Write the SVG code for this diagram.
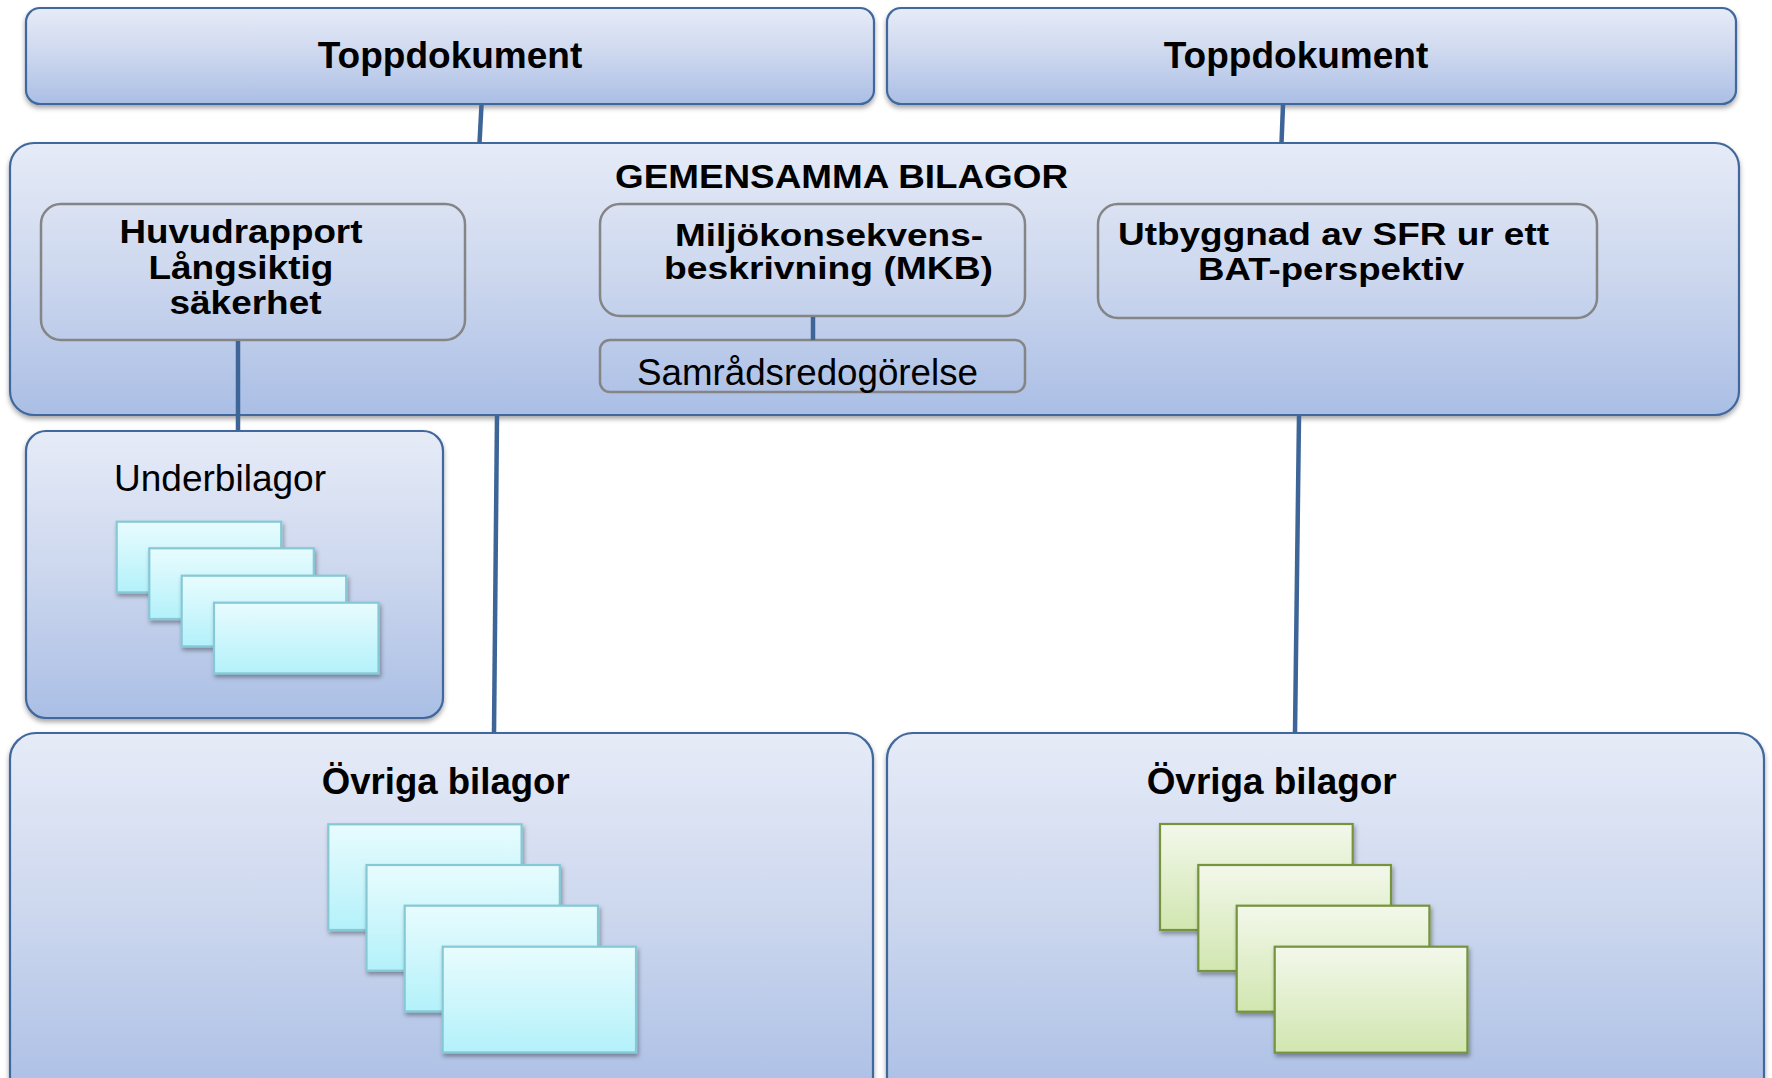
<svg xmlns="http://www.w3.org/2000/svg" width="1772" height="1078" viewBox="0 0 1772 1078">
<defs>
<linearGradient id="gBox" x1="0" y1="0" x2="0" y2="1">
<stop offset="0" stop-color="#e6ebf7"/>
<stop offset="0.5" stop-color="#ccd7ee"/>
<stop offset="1" stop-color="#aabee5"/>
</linearGradient>
<linearGradient id="gCyan" x1="0" y1="0" x2="0" y2="1">
<stop offset="0" stop-color="#e8fcfe"/>
<stop offset="1" stop-color="#b3f1fa"/>
</linearGradient>
<linearGradient id="gGreen" x1="0" y1="0" x2="0" y2="1">
<stop offset="0" stop-color="#f3f8eb"/>
<stop offset="1" stop-color="#d1e6b0"/>
</linearGradient>
<filter id="sh" x="-5%" y="-5%" width="110%" height="115%">
<feDropShadow dx="0" dy="3" stdDeviation="2.5" flood-color="#000" flood-opacity="0.35"/>
</filter>
<filter id="sh2" x="-10%" y="-10%" width="125%" height="130%">
<feDropShadow dx="1.5" dy="3" stdDeviation="2" flood-color="#000" flood-opacity="0.35"/>
</filter>
</defs>
<style>
.box{fill:url(#gBox);stroke:#40679d;stroke-width:2.2;filter:url(#sh)}
.inner{fill:none;stroke:#858585;stroke-width:2.5}
.cy{fill:url(#gCyan);stroke:#86c8d6;stroke-width:2.2;filter:url(#sh2)}
.gr{fill:url(#gGreen);stroke:#76933c;stroke-width:2.2;filter:url(#sh2)}
.b{font-family:"Liberation Sans",Arial,sans-serif;font-weight:bold;fill:#000}
.r{font-family:"Liberation Sans",Arial,sans-serif;fill:#000}
.con{stroke:#3d6597;stroke-width:4.5;fill:none}
</style>
<rect width="1772" height="1078" fill="#fff"/>

<g id="topp-left">
<rect class="box" x="26" y="8" width="848" height="96" rx="14"/>
<text class="b" x="450" y="68" font-size="37" text-anchor="middle">Toppdokument</text>
</g>
<g id="topp-right">
<rect class="box" x="887" y="8" width="849" height="96" rx="14"/>
<text class="b" x="1296" y="68" font-size="37" text-anchor="middle">Toppdokument</text>
</g>

<g id="gemensamma">
<rect class="box" x="10" y="143" width="1729" height="272" rx="24"/>
<text class="b" x="615" y="188" font-size="33" textLength="453" lengthAdjust="spacingAndGlyphs">GEMENSAMMA BILAGOR</text>
</g>

<g id="huvudrapport">
<rect class="inner" x="41" y="204" width="424" height="136" rx="20"/>
<text class="b" font-size="33" text-anchor="middle">
<tspan x="245.5" y="243" textLength="243" lengthAdjust="spacingAndGlyphs">Huvudrapport</tspan>
<tspan x="245.5" y="279" textLength="185" lengthAdjust="spacingAndGlyphs">Långsiktig</tspan>
<tspan x="245.5" y="314" textLength="152" lengthAdjust="spacingAndGlyphs">säkerhet</tspan>
</text>
</g>

<g id="mkb">
<rect class="inner" x="600" y="204" width="425" height="112" rx="20"/>
<text class="b" font-size="32">
<tspan x="675" y="246" textLength="308" lengthAdjust="spacingAndGlyphs">Miljökonsekvens-</tspan>
<tspan x="664" y="279" textLength="329" lengthAdjust="spacingAndGlyphs">beskrivning (MKB)</tspan>
</text>
</g>

<g id="samrad">
<rect class="inner" x="600" y="340" width="425" height="52" rx="10"/>
<text class="r" x="637" y="385" font-size="36" textLength="341" lengthAdjust="spacingAndGlyphs">Samrådsredogörelse</text>
</g>

<g id="utbyggnad">
<rect class="inner" x="1098" y="204" width="499" height="114" rx="20"/>
<text class="b" font-size="32">
<tspan x="1118" y="245" textLength="431" lengthAdjust="spacingAndGlyphs">Utbyggnad av SFR ur ett</tspan>
<tspan x="1198" y="280" textLength="266" lengthAdjust="spacingAndGlyphs">BAT-perspektiv</tspan>
</text>
</g>

<g id="underbilagor">
<rect class="box" x="26" y="431" width="417" height="287" rx="20"/>
<text class="r" x="114" y="491" font-size="37" textLength="212" lengthAdjust="spacingAndGlyphs">Underbilagor</text>
<rect class="cy" x="116.7" y="521.7" width="164.5" height="70.7"/>
<rect class="cy" x="149.3" y="548.3" width="164.5" height="70.7"/>
<rect class="cy" x="181.7" y="575.7" width="164.5" height="70.7"/>
<rect class="cy" x="214" y="602.7" width="164.5" height="70.7"/>
</g>

<g id="ovriga-left">
<rect class="box" x="10" y="733" width="863" height="370" rx="26"/>
<text class="b" x="321.7" y="794" font-size="36.5" textLength="248" lengthAdjust="spacingAndGlyphs">Övriga bilagor</text>
<rect class="cy" x="328.3" y="824.3" width="193.3" height="105.7"/>
<rect class="cy" x="366.5" y="865" width="193.3" height="105.7"/>
<rect class="cy" x="404.7" y="905.7" width="193.3" height="105.7"/>
<rect class="cy" x="442.7" y="946.7" width="193.3" height="105.7"/>
</g>

<g id="ovriga-right">
<rect class="box" x="887" y="733" width="877" height="370" rx="26"/>
<text class="b" x="1146.7" y="794" font-size="36.5" textLength="250" lengthAdjust="spacingAndGlyphs">Övriga bilagor</text>
<rect class="gr" x="1160" y="824" width="192.7" height="106"/>
<rect class="gr" x="1198.3" y="865" width="192.7" height="106"/>
<rect class="gr" x="1236.7" y="905.7" width="192.7" height="106"/>
<rect class="gr" x="1274.7" y="946.7" width="192.7" height="106"/>
</g>

<g id="connectors">
<line class="con" x1="481.5" y1="105" x2="479.5" y2="143"/>
<line class="con" x1="1283" y1="105" x2="1281.5" y2="143"/>
<line class="con" x1="238" y1="341" x2="238" y2="431"/>
<line class="con" x1="813" y1="317" x2="813" y2="340"/>
<line class="con" x1="497" y1="416" x2="494" y2="733"/>
<line class="con" x1="1299" y1="416" x2="1295" y2="733"/>
</g>
</svg>
